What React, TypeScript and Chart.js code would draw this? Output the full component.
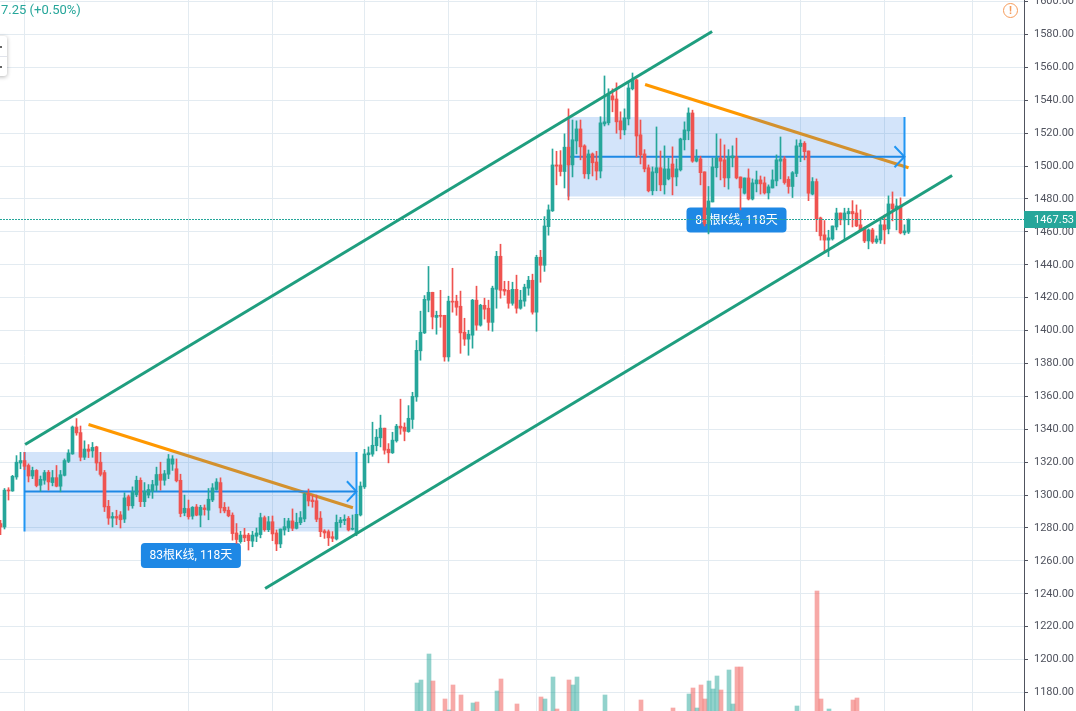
import React, { useEffect, useRef } from "react";
import { Chart, registerables } from "chart.js";

Chart.register(...registerables);

const opens = [
  1282.7,1280.6,1303,1302.5,1311,1319.5,1321,1318,1311.6,1315,
  1306,1309,1313.9,1307.6,1310.6,1305.4,1312,1320.5,1325,1341.4,
  1338,1323,1328,1326.8,1329.3,1320,1313.7,1293.2,1286,1287,
  1288,1285.4,1299,1293.5,1300.3,1309,1296,1300,1302.4,1306,
  1312.7,1309,1312.7,1318.8,1316,1309,1289.2,1291.8,1287.2,1292.8,
  1287.8,1292.2,1290.8,1297,1303.4,1307.6,1292.6,1290.8,1287.8,1277,
  1271.7,1275.7,1275.7,1272,1275,1276,1286.3,1279,1283.8,1277,
  1270.3,1278.8,1280,1284.3,1279.8,1283.2,1285.5,1300.7,1297,1296.6,
  1286,1278.2,1277.8,1274.7,1273.3,1283.2,1284.5,1285.9,1279.2,1276.8,
  1287.9,1305,1324.5,1324.9,1330,1334.8,1340.7,1327.9,1325.7,1333,
  1341.9,1341.3,1338.6,1346,1359.7,1387.7,1398.6,1418.5,1423.3,1408,
  1409.3,1409.3,1384,1417.9,1417.9,1414.8,1399,1394.8,1397.2,1418.5,
  1403.3,1415.4,1413.6,1405,1425.1,1445.2,1425.1,1424.5,1416.6,1425.1,
  1413.6,1417.9,1425.8,1430.6,1411.2,1444.6,1439.7,1463.2,1472.8,1500.7,
  1500.7,1496.7,1511.5,1500.7,1515.3,1522.6,1512.3,1495.3,1507.4,1502.5,
  1497,1525.6,1526.3,1542.7,1540.8,1527.5,1522,1528.7,1547,1552.4,
  1519,1507.4,1499,1485,1495.9,1499,1488.6,1492.2,1501.3,1493.4,
  1497.7,1516,1521.4,1532.3,1503,1504.4,1496.5,1464.9,1478.2,1499,
  1505,1503.8,1492.8,1505,1505.6,1493.4,1483.5,1492.8,1480,1489.2,
  1491.6,1489.8,1483.7,1486.7,1491,1503,1504.4,1492,1487.6,1495.5,
  1511.9,1513.9,1509.2,1483,1490.6,1468.5,1458.2,1455,1455.7,1463,
  1471.5,1467.3,1471,1472.4,1471.5,1464.3,1462.4,1454.5,1461.2,1453.9,
  1455.1,1464.3,1461.8,1477,1473.4,1475.8,1459.4,1459.9,
];
const closes = [
  1280.6,1303,1302.5,1311.4,1320,1321,1317.5,1311.6,1315,1305.8,
  1309.6,1313.7,1308,1310.6,1305.4,1312.4,1321,1325.6,1341.4,1337.8,
  1323,1328,1326.6,1329,1319.5,1312.6,1292.8,1286,1287,1286,
  1285,1298.3,1293.5,1302,1309,1296,1302.4,1303.4,1306.4,1312.5,
  1309,1313,1322,1322,1308.7,1288.8,1292,1286.8,1292.6,1287.8,
  1292.6,1291.2,1297.5,1304.4,1308,1292.2,1290.4,1287.4,1276.6,1273,
  1275.7,1274,1272.3,1275.7,1277,1286.3,1279,1283.8,1276.4,1270.3,
  1279.4,1280.8,1284.3,1279.8,1283.4,1286.3,1300.7,1296.4,1296,1285.3,
  1277.8,1277,1274,1273.7,1283.4,1284.9,1285.3,1278.8,1279.8,1288.3,
  1305.5,1325,1325.7,1330.3,1335.2,1340.7,1327.3,1325.7,1333.4,1341.9,
  1340.7,1338.8,1346.7,1360,1388,1399,1419,1423.3,1408.3,1409.3,
  1408.7,1384,1417.9,1417.3,1414.2,1398.6,1394.8,1397.8,1418.5,1403.3,
  1415.4,1413,1405,1425.8,1445.2,1424.5,1424,1416.6,1425.1,1413.6,
  1418.5,1426.4,1430.6,1411.2,1444.6,1439.7,1463.6,1473.4,1500.7,1500,
  1496.7,1511.5,1500.7,1516,1522.6,1511.7,1495.3,1507.4,1502,1497,
  1526.3,1526.9,1543.3,1540.2,1526.9,1522,1529.3,1547.5,1552.4,1518.3,
  1506.8,1498.3,1485,1496.5,1499,1488.6,1498.3,1498.3,1493.4,1498.3,
  1516.5,1522,1532.3,1503,1505,1496,1464.9,1478.8,1499.5,1505,
  1503,1492.8,1505.6,1506.2,1492.8,1486.7,1492.8,1480,1489.8,1491.6,
  1489.2,1483.7,1487.4,1491.6,1503.8,1504.4,1490,1487.6,1496,1512.3,
  1513.9,1508.8,1483.5,1490.6,1467.9,1457.6,1455,1456.4,1463.6,1471.5,
  1467.3,1471.5,1472.4,1471,1463.6,1461.2,1454.5,1461.2,1453.9,1455.7,
  1464.3,1461.2,1477,1474,1475.8,1459.4,1460.6,1467.53,
];
const highs = [
  1284.7,1304,1304.5,1312,1324,1326,1326,1319,1317,1315.5,
  1311.6,1315,1315,1315,1318,1315,1322,1327.6,1342,1346.5,
  1342,1333,1330.7,1332,1329.7,1326,1315,1296.8,1289.4,1290.8,
  1290,1301.4,1300,1305,1311.5,1310.5,1307.6,1306.4,1309,1317,
  1320,1315,1324.7,1324,1322,1312.7,1300,1297,1293,1294.3,
  1293.8,1294,1304,1307,1310,1310.5,1295.5,1292.8,1289.2,1282.7,
  1278,1279.8,1276.8,1278,1280,1289,1287.3,1287,1287.3,1278.8,
  1279.4,1285.9,1285.9,1291.6,1289,1290,1301,1303.7,1300,1300,
  1290,1279,1278.8,1277.8,1287.9,1286.5,1288,1287,1287.9,1288.3,
  1308,1327.8,1329.3,1344.3,1339.9,1348.6,1340.7,1331.3,1338.2,1343,
  1358.3,1343.9,1354.4,1362.5,1394,1411.8,1421.3,1439,1423.3,1411.8,
  1424.5,1409.3,1420.9,1437.9,1421.5,1424,1407.5,1400.2,1419,1427,
  1416,1419.7,1418.5,1427,1448.2,1452.5,1430,1430,1429.4,1433.7,
  1424.5,1428.2,1433,1434.3,1445.8,1448.8,1469.3,1476.4,1510.4,1509,
  1509.4,1519.6,1534.8,1528,1527.5,1528,1513,1509.8,1508,1509,
  1530,1554.8,1547,1547,1550.6,1533,1534.8,1551,1556.6,1553,
  1528,1510,1500.7,1499.5,1523.8,1509.2,1512.3,1504.8,1511.7,1504.4,
  1517,1526.9,1535.4,1534,1510,1506,1496.5,1487.6,1505,1519.6,
  1516.5,1512.9,1510,1512.3,1517,1493.4,1492.8,1498.3,1492.2,1497,
  1494,1493.4,1488.6,1497.7,1506.8,1517.7,1505.8,1493.6,1496.7,1516,
  1516,1514.9,1509.2,1493,1492.2,1469,1466.9,1461,1463.6,1474.4,
  1471.5,1474.4,1474.4,1479,1476.4,1473.4,1463,1461.8,1462.2,1457.6,
  1467.3,1470.3,1481.9,1484.3,1480,1480.7,1464.3,1467.9,
];
const lows = [
  1276,1279.4,1297,1302.3,1309.6,1316,1315.5,1308,1310,1305,
  1302.3,1306.6,1303,1305.6,1305,1302,1311.6,1319.7,1324.8,1336.4,
  1320.8,1321.6,1322.8,1323,1315,1311.6,1290,1282.2,1280.6,1282,
  1280,1283.3,1290.8,1292,1299,1293,1293,1298.3,1298,1302.4,
  1303,1306,1310,1315,1308,1286.8,1287.4,1285.4,1285.4,1287.4,
  1280.7,1287.8,1285,1296,1303,1289.2,1289.2,1286.8,1272.6,1270.6,
  1270.7,1271.7,1266.6,1268.6,1271.7,1274,1278,1277.8,1272.3,1266.2,
  1268,1275.7,1277.8,1278.4,1279.4,1282,1283.8,1293.4,1292.6,1283.8,
  1274.7,1273.7,1269.3,1271.7,1272.7,1280.4,1282,1278.2,1278.8,1275.3,
  1287.3,1304,1319.6,1323.6,1326.9,1329.3,1324.9,1319.6,1325.3,1332.2,
  1337,1333,1338.2,1340.5,1357,1382,1398.2,1411.4,1401,1397.8,
  1402,1381.4,1381.4,1411.2,1409.3,1386.2,1391,1385,1389.3,1400.2,
  1402.7,1407,1400.2,1399.6,1413.6,1419.7,1421.5,1413.6,1415.4,1410.6,
  1413,1414.8,1421.5,1410,1399.6,1429.4,1436,1458,1472.4,1488.6,
  1494,1486.7,1479.4,1493.4,1507.4,1503.8,1492.6,1492.2,1494,1491.6,
  1492.8,1524.4,1525,1533,1520,1516.5,1519,1525,1546.3,1505.6,
  1501.3,1496.5,1484.3,1482.5,1485,1485,1483,1491.6,1482.5,1488,
  1497,1509.8,1516,1502.3,1502.5,1488.6,1463.6,1458.8,1478.2,1493.4,
  1491.6,1487.4,1486,1499.5,1492.2,1473.4,1483,1479.4,1479.4,1484.3,
  1483,1483,1480,1486.7,1488,1492.2,1489,1483.5,1480.9,1493.6,
  1502.7,1503.8,1479,1482.5,1460.2,1455,1448,1445,1455,1461.2,
  1464.3,1455.5,1464.3,1463,1463.2,1460.6,1453.5,1449.7,1453,1453,
  1453,1452.7,1458.8,1466.7,1461.2,1458.8,1458.2,1459,
];

const volumeBars = [104,105,107,108,111,112,113,115,118,119,124,125,129,135,136,138,139,142,143,144,151,160,168,172,173,174,175,176,177,178,179,180,182,183,184,185,199,204,205,207,213,214];
const volumeValues = [28,31,57,30,12,1,26,16,8,9,20,32,7,14,12,34,2,31,26,34,16,11,3,17,23,3,26,12,30,22,35,21,41,7,44,44,5,120,12,2,11,13];

const yTicks = [1180,1200,1220,1240,1260,1280,1300,1320,1340,1360,1380,1400,1420,1440,1460,1480,1500,1520,1540,1560,1580,1600];
const xGridBars = [6,47,68,91,112,134,156,177,200,221,243];
const lastPrice = 1467.53;

const channelUpper = [[6.15,1330.76],[177.9,1581.82]];
const channelLower = [[66.15,1243.22],[237.9,1494.29]];
const trendOne = [[22,1342.9],[88.1,1292.3]];
const trendTwo = [[161.15,1549.6],[227,1499.0]];
const rangeOne = { from: 6, to: 89, top: 1326.2, bottom: 1277.9, mid: 1302.2, arrowFrom: 86.6, arrowUp: 1308.4, arrowDown: 1296, label: "83根K线, 118天", labelBar: 47.6, labelPrice: 1263.3 };
const rangeTwo = { from: 142, to: 226, top: 1529.8, bottom: 1481.5, mid: 1505.65, arrowFrom: 223.5, arrowUp: 1512.1, arrowDown: 1499.3, label: "84根K线, 118天", labelBar: 184, labelPrice: 1467.2 };

const GREEN = "#26a69a";
const RED = "#ef5350";
const AXIS_TEXT = "#50535e";
const GRID = "#e3ebf1";
const UI_FONT = "Roboto, 'Noto Sans CJK SC', sans-serif";

const xMin = -0.125;
const xMax = 255.875;
const yMin = 1168.75;
const yMax = 1600.97;

const candleColors = closes.map((c, i) => (c >= opens[i] ? GREEN : RED));
const toXY = (pts: number[][]) => pts.map(([x, y]) => ({ x, y }));

const lineDs = (pts: number[][], color: string, width: number, order: number, extra: any = {}) => ({
  type: "line",
  data: toXY(pts),
  borderColor: color,
  backgroundColor: color,
  borderWidth: width,
  pointRadius: 0,
  tension: 0,
  order,
  ...extra,
});

const rangeDatasets = (r: typeof rangeOne) => [
  lineDs([[r.from, r.top], [r.to, r.top]], "rgba(0,0,0,0)", 0, 7, {
    fill: { value: r.bottom },
    backgroundColor: "rgba(33,120,230,0.2)",
  }),
  lineDs([[r.from, r.mid], [r.to, r.mid]], "#1e88e5", 2, 6),
  lineDs([[r.from, r.top], [r.from, r.bottom]], "#2196f3", 2, 6),
  lineDs([[r.to, r.top], [r.to, r.bottom]], "#2196f3", 2, 6),
  lineDs([[r.arrowFrom, r.arrowUp], [r.to, r.mid], [r.arrowFrom, r.arrowDown]], "#2196f3", 2, 6),
];

const labelsPlugin = {
  id: "rangeLabels",
  beforeDatasetsDraw(chart: any) {
    const { ctx, scales } = chart;
    for (const r of [rangeOne, rangeTwo]) {
      const cx = scales.x.getPixelForValue(r.labelBar);
      const cy = scales.y.getPixelForValue(r.labelPrice);
      ctx.save();
      ctx.fillStyle = "#1e88e5";
      ctx.beginPath();
      ctx.roundRect(cx - 50, cy - 12.5, 100, 25, 4);
      ctx.fill();
      ctx.fillStyle = "#ffffff";
      ctx.font = `12px ${UI_FONT}`;
      ctx.textAlign = "center";
      ctx.textBaseline = "middle";
      ctx.fillText(r.label, cx, cy + 0.5);
      ctx.restore();
    }
  },
  afterDraw(chart: any) {
    const { ctx, scales } = chart;
    const y = scales.y.getPixelForValue(lastPrice);
    ctx.save();
    ctx.fillStyle = GREEN;
    ctx.fillRect(1024, Math.floor(y) - 8, 52, 17);
    ctx.fillStyle = "#ffffff";
    ctx.font = `11px ${UI_FONT}`;
    ctx.textAlign = "left";
    ctx.textBaseline = "middle";
    ctx.fillText(lastPrice.toFixed(2), 1034, Math.floor(y) + 1);
    ctx.fillStyle = GREEN;
    ctx.font = `13px ${UI_FONT}`;
    ctx.fillText("7.25 (+0.50%)", 1, 11);
    ctx.restore();
  },
};

export default function App() {
  const ref = useRef<HTMLCanvasElement | null>(null);
  useEffect(() => {
    document.body.style.margin = "0";
    const idx = closes.map((_, i) => i);
    const chart = new Chart(ref.current as HTMLCanvasElement, {
      type: "bar",
      data: {
        datasets: [
          lineDs(channelUpper, "#1f9e7f", 3, 1),
          lineDs(channelLower, "#1f9e7f", 3, 1),
          lineDs([[xMin, lastPrice], [xMax, lastPrice]], GREEN, 1, 2, { borderDash: [2, 1] }),
          {
            type: "bar",
            data: idx.map((i) => ({ x: i, y: [opens[i], closes[i]] })),
            backgroundColor: candleColors,
            barThickness: 3,
            minBarLength: 1,
            grouped: false,
            order: 3,
          },
          {
            type: "bar",
            data: idx.map((i) => ({ x: i, y: [lows[i], highs[i]] })),
            backgroundColor: candleColors,
            barThickness: 1,
            grouped: false,
            order: 4,
          },
          ...rangeDatasets(rangeOne),
          ...rangeDatasets(rangeTwo),
          lineDs(trendOne, "#ff9800", 3, 8),
          lineDs(trendTwo, "#ff9800", 3, 8),
          {
            type: "bar",
            xAxisID: "xv",
            yAxisID: "vol",
            data: volumeBars.map((b, k) => ({ x: b, y: volumeValues[k] })),
            backgroundColor: volumeBars.map((b) => (candleColors[b] === GREEN ? "rgba(38,166,154,0.5)" : "rgba(239,83,80,0.5)")),
            barThickness: 4,
            grouped: false,
            order: 9,
          },
        ] as any,
      },
      options: {
        animation: false,
        responsive: false,
        layout: { padding: 0, autoPadding: false },
        plugins: { legend: { display: false }, tooltip: { enabled: false } },
        events: [],
        scales: {
          x: {
            type: "linear",
            min: xMin,
            max: xMax,
            offset: false,
            afterBuildTicks: (s: any) => {
              s.ticks = xGridBars.map((value) => ({ value }));
            },
            afterFit: (s: any) => {
              s.height = 0;
              s.paddingLeft = 0;
              s.paddingRight = 0;
              s.paddingTop = 0;
              s.paddingBottom = 0;
            },
            ticks: { display: false, autoSkip: false },
            grid: { color: GRID, lineWidth: 1, drawTicks: false, offset: false },
            border: { display: false },
          },
          xv: {
            type: "linear",
            display: false,
            offset: false,
            min: xMin - 0.125,
            max: xMax - 0.125,
          },
          y: {
            type: "linear",
            position: "right",
            min: yMin,
            max: yMax,
            afterBuildTicks: (s: any) => {
              s.ticks = yTicks.map((value) => ({ value }));
            },
            afterFit: (s: any) => {
              s.width = 52;
              s.paddingTop = 0;
              s.paddingBottom = 0;
              s.paddingLeft = 0;
              s.paddingRight = 0;
            },
            ticks: {
              padding: 6,
              color: AXIS_TEXT,
              font: { family: UI_FONT, size: 11 },
              callback: (v: any) => Number(v).toFixed(2),
              autoSkip: false,
            },
            grid: { color: GRID, lineWidth: 1, tickColor: AXIS_TEXT, tickLength: 4 },
            border: { display: true, color: AXIS_TEXT, width: 1 },
          },
          vol: { type: "linear", display: false, min: 0, max: 711 },
        },
      },
      plugins: [labelsPlugin],
    } as any);
    return () => chart.destroy();
  }, []);

  return (
    <div style={{ position: "relative", width: 1076, height: 711, overflow: "hidden", background: "#fff" }}>
      <canvas ref={ref} width={1076} height={711} style={{ display: "block" }} />
      <div
        style={{
          position: "absolute", left: -4, top: 36, width: 11, height: 40, background: "#fff",
          borderRadius: 3, boxShadow: "0 1px 4px rgba(0,0,0,0.3)",
        }}
      >
        <div style={{ position: "absolute", left: 4, top: 10, width: 2, height: 2, background: "#666" }} />
        <div style={{ position: "absolute", left: 0, top: 20, width: 11, height: 1, background: "#e0e3eb" }} />
        <div style={{ position: "absolute", left: 4, top: 30, width: 2, height: 2, background: "#666" }} />
      </div>
      <div
        style={{
          position: "absolute", left: 1003, top: 3, width: 13, height: 13, borderRadius: "50%",
          border: "1.5px solid #f59b5a", color: "#f59b5a", font: `bold 11px/13px ${UI_FONT}`, textAlign: "center",
        }}
      >
        !
      </div>
    </div>
  );
}
